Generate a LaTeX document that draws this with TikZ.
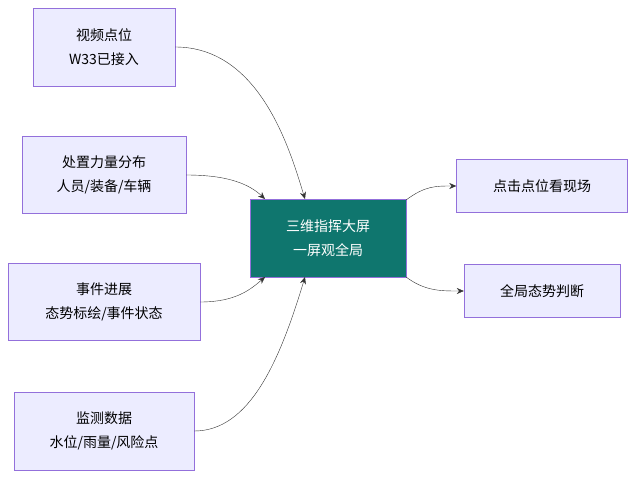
\documentclass[tikz,border=0pt]{standalone}
\usepackage{fontspec}
\setmainfont{Noto Sans CJK SC}
\usetikzlibrary{arrows.meta,positioning}
\definecolor{boxfill}{HTML}{ECECFF}
\definecolor{boxline}{HTML}{9370DB}
\definecolor{hubfill}{HTML}{0F766E}
\begin{document}
\begin{tikzpicture}[x=1pt,y=-1pt,
    src/.style={draw=boxline,fill=boxfill,inner sep=0pt,align=center,font=\fontsize{14}{24}\selectfont},
    hub/.style={draw=boxline,fill=hubfill,text=white,inner sep=0pt,align=center,font=\fontsize{14}{24}\selectfont},
    link/.style={draw=black!80,-{Stealth[length=7pt,width=6pt]}}]
  \useasboundingbox (0,0) rectangle (636,478);
  \node[src,minimum width=142,minimum height=78] (video) at (104,47) {视频点位\\W33已接入};
  \node[src,minimum width=164,minimum height=77] (force) at (104,175) {处置力量分布\\人员/装备/车辆};
  \node[src,minimum width=192,minimum height=77] (event) at (104,302) {事件进展\\态势标绘/事件状态};
  \node[src,minimum width=180,minimum height=78] (monitor) at (104,431) {监测数据\\水位/雨量/风险点};
  \node[hub,minimum width=156,minimum height=78] (screen) at (328,238) {三维指挥大屏\\一屏观全局};
  \node[src,minimum width=171,minimum height=53] (scene) at (542,186) {点击点位看现场};
  \node[src,minimum width=156,minimum height=53] (whole) at (542,291) {全局态势判断};
  % inputs
  \draw[link] (video.east) .. controls (260,47) and (290,150) .. (305,199);
  \draw[link] (force.east) .. controls (230,175) and (250,185) .. (265,199);
  \draw[link] (event.east) .. controls (235,302) and (250,290) .. (265,277);
  \draw[link] (monitor.east) .. controls (250,431) and (280,360) .. (305,277);
  % outputs
  \draw[link] (406,200) .. controls (425,186) and (435,186) .. (scene.west);
  \draw[link] (406,277) .. controls (425,291) and (440,291) .. (whole.west);
\end{tikzpicture}
\end{document}
